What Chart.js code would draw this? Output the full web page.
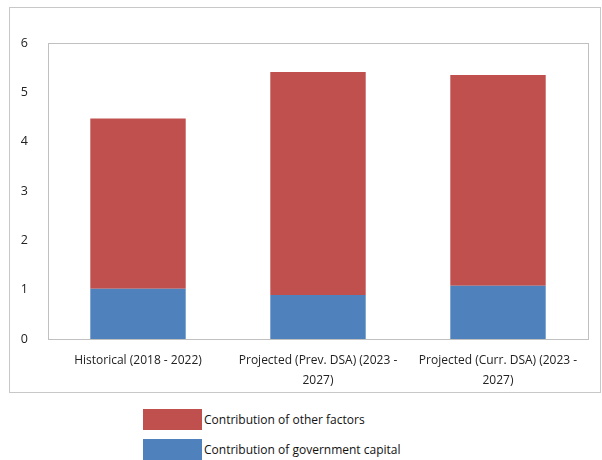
<!DOCTYPE html>
<html>
<head>
<meta charset="utf-8">
<script src="https://cdn.jsdelivr.net/npm/chart.js@4"></script>
<style>
  body { margin: 0; background: #fff; font-family: "Open Sans", "Noto Sans", sans-serif; }
  #frame { position: absolute; left: 9px; top: 7px; width: 590px; height: 384px; border: 1px solid #c8c8c8; }
  #frame canvas { position: absolute; left: 0; top: 0; }
  #legend { position: absolute; left: 143px; top: 409px; font-size: 12px; color: #111; }
  .item { display: flex; align-items: center; height: 21px; margin-bottom: 9px; }
  .swatch { width: 59px; height: 21px; margin-right: 2px; }
</style>
</head>
<body>
<div id="frame"><canvas id="chart" width="590" height="384"></canvas></div>
<div id="legend"></div>
<script>
// categories (multi-line labels, as wrapped in the source)
const categories = [
    ['Historical (2018 - 2022)'],
    ['Projected (Prev. DSA) (2023 -', '2027)'],
    ['Projected (Curr. DSA) (2023 -', '2027)']
];
const govCapital = [1.02, 0.89, 1.08];
const otherFactors = [3.45, 4.52, 4.27];
const yTicks = [0, 1, 2, 3, 4, 5, 6];

const seriesNames = ['Contribution of government capital', 'Contribution of other factors'];
const seriesColors = ['#4F81BD', '#C0504D'];

// draws the light grey box around the plot area
const plotBorder = {
    id: 'plotBorder',
    afterDraw(chart) {
        const { ctx, chartArea: a } = chart;
        ctx.save();
        ctx.strokeStyle = '#c0c0c0';
        ctx.lineWidth = 1;
        ctx.strokeRect(Math.round(a.left) + 0.5, Math.round(a.top) + 0.5,
            Math.round(a.right - a.left), Math.round(a.bottom - a.top));
        ctx.restore();
    }
};

const tickFont = { family: '"Open Sans", sans-serif', size: 12, lineHeight: 1.65 };

new Chart(document.getElementById('chart'), {
    type: 'bar',
    data: {
        labels: categories,
        datasets: [
            { label: seriesNames[0], data: govCapital, backgroundColor: seriesColors[0] },
            { label: seriesNames[1], data: otherFactors, backgroundColor: seriesColors[1] }
        ]
    },
    options: {
        responsive: false,
        animation: false,
        layout: { padding: { top: 35, right: 12, left: 0, bottom: 0 } },
        datasets: { bar: { categoryPercentage: 1, barPercentage: 0.53 } },
        plugins: { legend: { display: false }, tooltip: { enabled: false } },
        scales: {
            x: {
                stacked: true,
                grid: { display: false },
                border: { display: false },
                ticks: { color: '#222', font: tickFont, maxRotation: 0, padding: 4 },
                afterFit(scale) { scale.height = 53; }
            },
            y: {
                stacked: true,
                min: 0,
                max: 6,
                afterBuildTicks(scale) { scale.ticks = yTicks.map(v => ({ value: v })); },
                grid: { display: false },
                border: { display: false },
                ticks: { color: '#222', font: { family: '"Open Sans", sans-serif', size: 12.5 }, padding: 12 },
                afterFit(scale) { scale.width = 38; }
            }
        }
    },
    plugins: [plotBorder]
});

// legend: other factors first, then government capital
const legend = document.getElementById('legend');
[1, 0].forEach(i => {
    const row = document.createElement('div');
    row.className = 'item';
    row.innerHTML = '<span class="swatch" style="background:' + seriesColors[i] + '"></span><span>' + seriesNames[i] + '</span>';
    legend.appendChild(row);
});
</script>
</body>
</html>
